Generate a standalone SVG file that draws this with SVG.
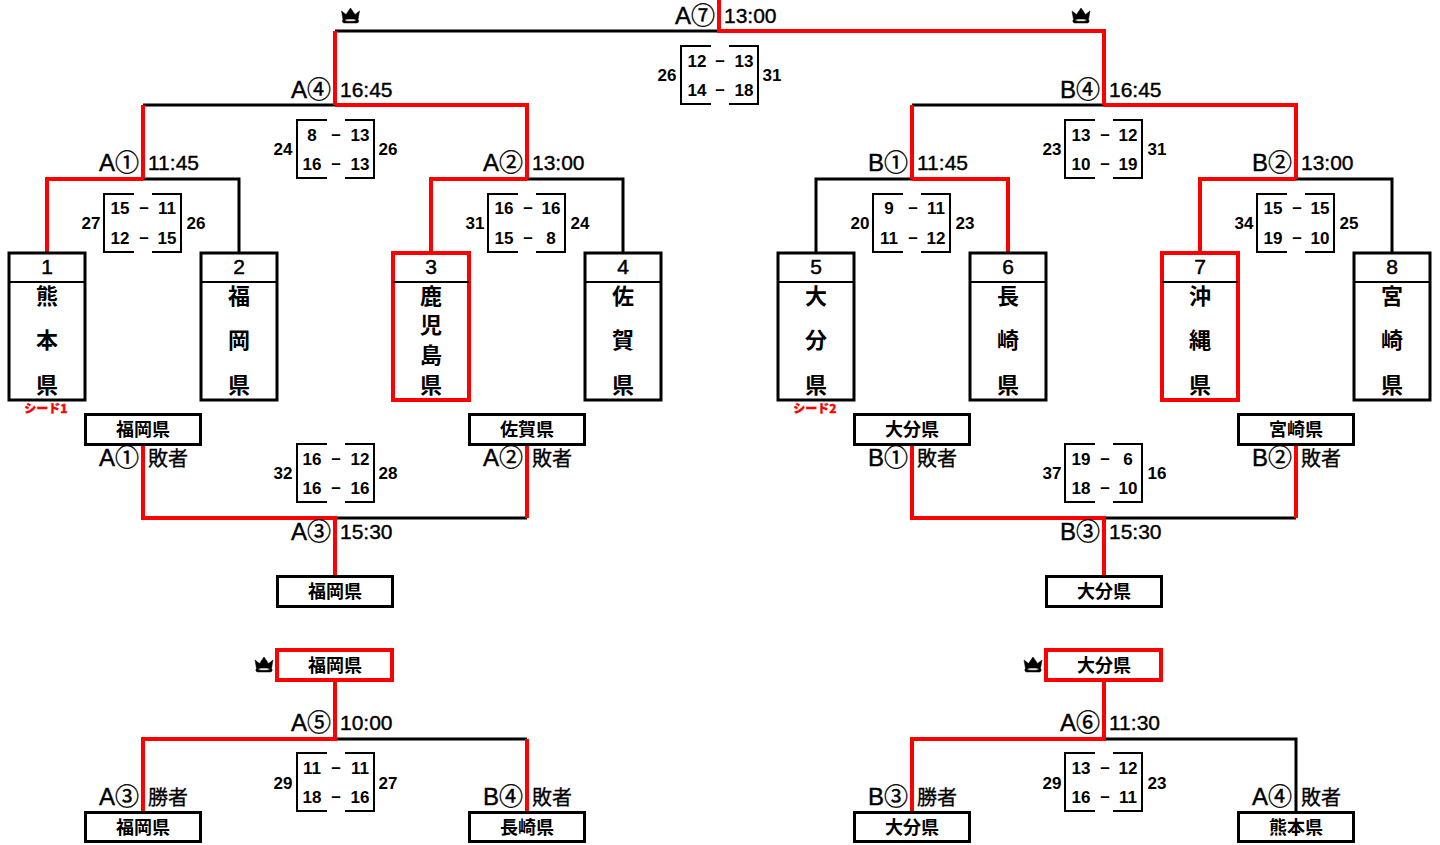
<svg xmlns="http://www.w3.org/2000/svg" width="1440" height="845" viewBox="0 0 1440 845">
<style>
text{font-family:"Liberation Sans","Noto Sans CJK JP",sans-serif;fill:#000;dominant-baseline:central}
.t{font-size:21px;stroke:#000;stroke-width:.4px;transform:translateY(-1px)}
.r{text-anchor:end;font-size:24px}
.s{font-size:17px;font-weight:700;text-anchor:middle}
.n{font-size:21px;font-weight:400;stroke:#000;stroke-width:.5px;text-anchor:middle;transform:translateY(-1px)}
.k{font-size:22px;font-weight:700;text-anchor:middle;font-family:"Noto Sans CJK JP",sans-serif;transform:translateY(-2px)}
.b{font-size:18px;font-weight:700;text-anchor:middle;font-family:"Noto Sans CJK JP",sans-serif;transform:translateY(-1px)}
.w{font-size:20px;font-family:"Noto Sans CJK JP",sans-serif;stroke:#000;stroke-width:.3px;transform:translateY(-1px)}
.seed{font-size:12px;font-weight:900;text-anchor:middle;fill:#f00;font-family:"Noto Sans CJK JP",sans-serif;stroke:#f00;stroke-width:.3px}
.bx{fill:#fff;stroke:#000;stroke-width:3}
.rx{fill:#fff;stroke:#f00;stroke-width:4}
.k0{fill:none;stroke:#000;stroke-width:3}
.k1{fill:none;stroke:#f00;stroke-width:4}
.br{fill:none;stroke:#000;stroke-width:2}
</style>
<defs>
<symbol id="crown" viewBox="0 0 20 16" overflow="visible"><path fill-rule="evenodd" stroke="#000" stroke-width=".5" d="M1 3l4.500 3.500L10 0l4.500 6.500L19 3l-1.500 8.500c1 1 1 3-1 3.500H3.500c-2-.5-2-2.500-1-3.500zM5 11.500c-1.500 1 0 1.800 5 1.800s6.500-.8 5-1.800c-2-.6-8-.6-10 0z"/></symbol>
<g id="sb"><path class="br" d="M-9-29H-39V29H-9M9-29H38V29H9"/></g>
</defs>
<g id="connectors">
<path class="k0" d="M335 31H719M143 105H335M143 179H239V253M527 179H623V253M816 253V179H912M912 105H1104M1296 179H1392V253M335 518H527M1104 518H1296M335 739H527M1104 739H1296V812"/>
<path class="k1" d="M719 0V31H1104V105M335 105V31M143 179V105M527 179V105H335M47 253V179H143M431 253V179H527M912 179V105M1296 179V105H1104M1008 253V179H912M1200 253V179H1296M143 444V518H335V576M527 444V518M912 444V518H1104V576M1296 444V518M335 680V739H143V812M527 739V812M1104 680V739H912V812"/>
</g>
<g id="crowns"><use href="#crown" x="340.500" y="8" width="20" height="16"/><use href="#crown" x="1071" y="8" width="20" height="16"/><use href="#crown" x="254" y="657" width="20" height="16"/><use href="#crown" x="1023" y="657" width="20" height="16"/></g>
<g id="team1"><rect class="bx" x="9" y="253" width="76" height="147"/><path class="br" d="M9 282H85"/><text class="n" x="47" y="267">1</text><text class="k" x="47" y="296">熊</text><text class="k" x="47" y="340">本</text><text class="k" x="47" y="385">県</text><text class="seed" x="46" y="407">シード1</text></g>
<g id="team2"><rect class="bx" x="201" y="253" width="76" height="147"/><path class="br" d="M201 282H277"/><text class="n" x="239" y="267">2</text><text class="k" x="239" y="296">福</text><text class="k" x="239" y="340">岡</text><text class="k" x="239" y="385">県</text></g>
<g id="team3"><rect class="rx" x="393" y="253" width="76" height="147"/><path class="br" d="M393 282H469"/><text class="n" x="431" y="267">3</text><text class="k" x="431" y="296">鹿</text><text class="k" x="431" y="325">児</text><text class="k" x="431" y="355">島</text><text class="k" x="431" y="385">県</text></g>
<g id="team4"><rect class="bx" x="585" y="253" width="76" height="147"/><path class="br" d="M585 282H661"/><text class="n" x="623" y="267">4</text><text class="k" x="623" y="296">佐</text><text class="k" x="623" y="340">賀</text><text class="k" x="623" y="385">県</text></g>
<g id="team5"><rect class="bx" x="778" y="253" width="76" height="147"/><path class="br" d="M778 282H854"/><text class="n" x="816" y="267">5</text><text class="k" x="816" y="296">大</text><text class="k" x="816" y="340">分</text><text class="k" x="816" y="385">県</text><text class="seed" x="815" y="407">シード2</text></g>
<g id="team6"><rect class="bx" x="970" y="253" width="76" height="147"/><path class="br" d="M970 282H1046"/><text class="n" x="1008" y="267">6</text><text class="k" x="1008" y="296">長</text><text class="k" x="1008" y="340">崎</text><text class="k" x="1008" y="385">県</text></g>
<g id="team7"><rect class="rx" x="1162" y="253" width="76" height="147"/><path class="br" d="M1162 282H1238"/><text class="n" x="1200" y="267">7</text><text class="k" x="1200" y="296">沖</text><text class="k" x="1200" y="340">縄</text><text class="k" x="1200" y="385">県</text></g>
<g id="team8"><rect class="bx" x="1354" y="253" width="76" height="147"/><path class="br" d="M1354 282H1430"/><text class="n" x="1392" y="267">8</text><text class="k" x="1392" y="296">宮</text><text class="k" x="1392" y="340">崎</text><text class="k" x="1392" y="385">県</text></g>
<g id="r1"><rect class="bx" x="85.500" y="414.500" width="115" height="30"/><text class="b" x="143" y="429">福岡県</text></g>
<g id="r2"><rect class="bx" x="469.500" y="414.500" width="115" height="30"/><text class="b" x="527" y="429">佐賀県</text></g>
<g id="r3"><rect class="bx" x="854.500" y="414.500" width="115" height="30"/><text class="b" x="912" y="429">大分県</text></g>
<g id="r4"><rect class="bx" x="1238.500" y="414.500" width="115" height="30"/><text class="b" x="1296" y="429">宮崎県</text></g>
<g id="r5"><rect class="bx" x="277.500" y="576.500" width="115" height="30"/><text class="b" x="335" y="591">福岡県</text></g>
<g id="r6"><rect class="bx" x="1046.500" y="576.500" width="115" height="30"/><text class="b" x="1104" y="591">大分県</text></g>
<g id="r7"><rect class="rx" x="277" y="650" width="115" height="30"/><text class="b" x="335" y="665">福岡県</text></g>
<g id="r8"><rect class="rx" x="1046" y="650" width="115" height="30"/><text class="b" x="1104" y="665">大分県</text></g>
<g id="r9"><rect class="bx" x="85.500" y="812.500" width="115" height="29"/><text class="b" x="143" y="827">福岡県</text></g>
<g id="r10"><rect class="bx" x="469.500" y="812.500" width="115" height="29"/><text class="b" x="527" y="827">長崎県</text></g>
<g id="r11"><rect class="bx" x="854.500" y="812.500" width="115" height="29"/><text class="b" x="912" y="827">大分県</text></g>
<g id="r12"><rect class="bx" x="1238.500" y="812.500" width="115" height="29"/><text class="b" x="1296" y="827">熊本県</text></g>
<g id="labels">
<text class="t r" x="715" y="16">A⑦</text><text class="t" x="724" y="16">13:00</text>
<text class="t r" x="331" y="90">A④</text><text class="t" x="340" y="90">16:45</text>
<text class="t r" x="1100" y="90">B④</text><text class="t" x="1109" y="90">16:45</text>
<text class="t r" x="139" y="163">A①</text><text class="t" x="148" y="163">11:45</text>
<text class="t r" x="523" y="163">A②</text><text class="t" x="532" y="163">13:00</text>
<text class="t r" x="908" y="163">B①</text><text class="t" x="917" y="163">11:45</text>
<text class="t r" x="1292" y="163">B②</text><text class="t" x="1301" y="163">13:00</text>
<text class="t r" x="331" y="532">A③</text><text class="t" x="340" y="532">15:30</text>
<text class="t r" x="1100" y="532">B③</text><text class="t" x="1109" y="532">15:30</text>
<text class="t r" x="331" y="723">A⑤</text><text class="t" x="340" y="723">10:00</text>
<text class="t r" x="1100" y="723">A⑥</text><text class="t" x="1109" y="723">11:30</text>
<text class="t r" x="139" y="458">A①</text><text class="w" x="148" y="458">敗者</text>
<text class="t r" x="523" y="458">A②</text><text class="w" x="532" y="458">敗者</text>
<text class="t r" x="908" y="458">B①</text><text class="w" x="917" y="458">敗者</text>
<text class="t r" x="1292" y="458">B②</text><text class="w" x="1301" y="458">敗者</text>
<text class="t r" x="139" y="797">A③</text><text class="w" x="148" y="797">勝者</text>
<text class="t r" x="523" y="797">B④</text><text class="w" x="532" y="797">敗者</text>
<text class="t r" x="908" y="797">B③</text><text class="w" x="917" y="797">勝者</text>
<text class="t r" x="1292" y="797">A④</text><text class="w" x="1301" y="797">敗者</text>
</g>
<g id="scoreA7"><use href="#sb" x="720" y="75"/><text class="s" x="667" y="75">26</text><text class="s" x="697" y="61">12</text><text class="s" x="720" y="60">–</text><text class="s" x="744" y="61">13</text><text class="s" x="697" y="90">14</text><text class="s" x="720" y="89">–</text><text class="s" x="744" y="90">18</text><text class="s" x="772" y="75">31</text></g>
<g id="scoreA4"><use href="#sb" x="336" y="149"/><text class="s" x="283" y="149">24</text><text class="s" x="312" y="135">8</text><text class="s" x="336" y="134">–</text><text class="s" x="360" y="135">13</text><text class="s" x="312" y="164">16</text><text class="s" x="336" y="163">–</text><text class="s" x="360" y="164">13</text><text class="s" x="388" y="149">26</text></g>
<g id="scoreB4"><use href="#sb" x="1104" y="149"/><text class="s" x="1052" y="149">23</text><text class="s" x="1081" y="135">13</text><text class="s" x="1105" y="134">–</text><text class="s" x="1128" y="135">12</text><text class="s" x="1081" y="164">10</text><text class="s" x="1105" y="163">–</text><text class="s" x="1128" y="164">19</text><text class="s" x="1157" y="149">31</text></g>
<g id="scoreA1"><use href="#sb" x="143" y="223"/><text class="s" x="91" y="223">27</text><text class="s" x="120" y="208">15</text><text class="s" x="144" y="207">–</text><text class="s" x="167" y="208">11</text><text class="s" x="120" y="238">12</text><text class="s" x="144" y="237">–</text><text class="s" x="167" y="238">15</text><text class="s" x="196" y="223">26</text></g>
<g id="scoreA2"><use href="#sb" x="527" y="223"/><text class="s" x="475" y="223">31</text><text class="s" x="504" y="208">16</text><text class="s" x="528" y="207">–</text><text class="s" x="551" y="208">16</text><text class="s" x="504" y="238">15</text><text class="s" x="528" y="237">–</text><text class="s" x="551" y="238">8</text><text class="s" x="580" y="223">24</text></g>
<g id="scoreB1"><use href="#sb" x="912" y="223"/><text class="s" x="860" y="223">20</text><text class="s" x="889" y="208">9</text><text class="s" x="913" y="207">–</text><text class="s" x="936" y="208">11</text><text class="s" x="889" y="238">11</text><text class="s" x="913" y="237">–</text><text class="s" x="936" y="238">12</text><text class="s" x="965" y="223">23</text></g>
<g id="scoreB2"><use href="#sb" x="1296" y="223"/><text class="s" x="1244" y="223">34</text><text class="s" x="1273" y="208">15</text><text class="s" x="1297" y="207">–</text><text class="s" x="1320" y="208">15</text><text class="s" x="1273" y="238">19</text><text class="s" x="1297" y="237">–</text><text class="s" x="1320" y="238">10</text><text class="s" x="1349" y="223">25</text></g>
<g id="scoreA3"><use href="#sb" x="336" y="473"/><text class="s" x="283" y="473">32</text><text class="s" x="312" y="459">16</text><text class="s" x="336" y="458">–</text><text class="s" x="360" y="459">12</text><text class="s" x="312" y="488">16</text><text class="s" x="336" y="487">–</text><text class="s" x="360" y="488">16</text><text class="s" x="388" y="473">28</text></g>
<g id="scoreB3"><use href="#sb" x="1104" y="473"/><text class="s" x="1052" y="473">37</text><text class="s" x="1081" y="459">19</text><text class="s" x="1105" y="458">–</text><text class="s" x="1128" y="459">6</text><text class="s" x="1081" y="488">18</text><text class="s" x="1105" y="487">–</text><text class="s" x="1128" y="488">10</text><text class="s" x="1157" y="473">16</text></g>
<g id="scoreA5"><use href="#sb" x="336" y="782"/><text class="s" x="283" y="783">29</text><text class="s" x="312" y="768">11</text><text class="s" x="336" y="767">–</text><text class="s" x="360" y="768">11</text><text class="s" x="312" y="797">18</text><text class="s" x="336" y="796">–</text><text class="s" x="360" y="797">16</text><text class="s" x="388" y="783">27</text></g>
<g id="scoreA6"><use href="#sb" x="1104" y="782"/><text class="s" x="1052" y="783">29</text><text class="s" x="1081" y="768">13</text><text class="s" x="1105" y="767">–</text><text class="s" x="1128" y="768">12</text><text class="s" x="1081" y="797">16</text><text class="s" x="1105" y="796">–</text><text class="s" x="1128" y="797">11</text><text class="s" x="1157" y="783">23</text></g>
</svg>
